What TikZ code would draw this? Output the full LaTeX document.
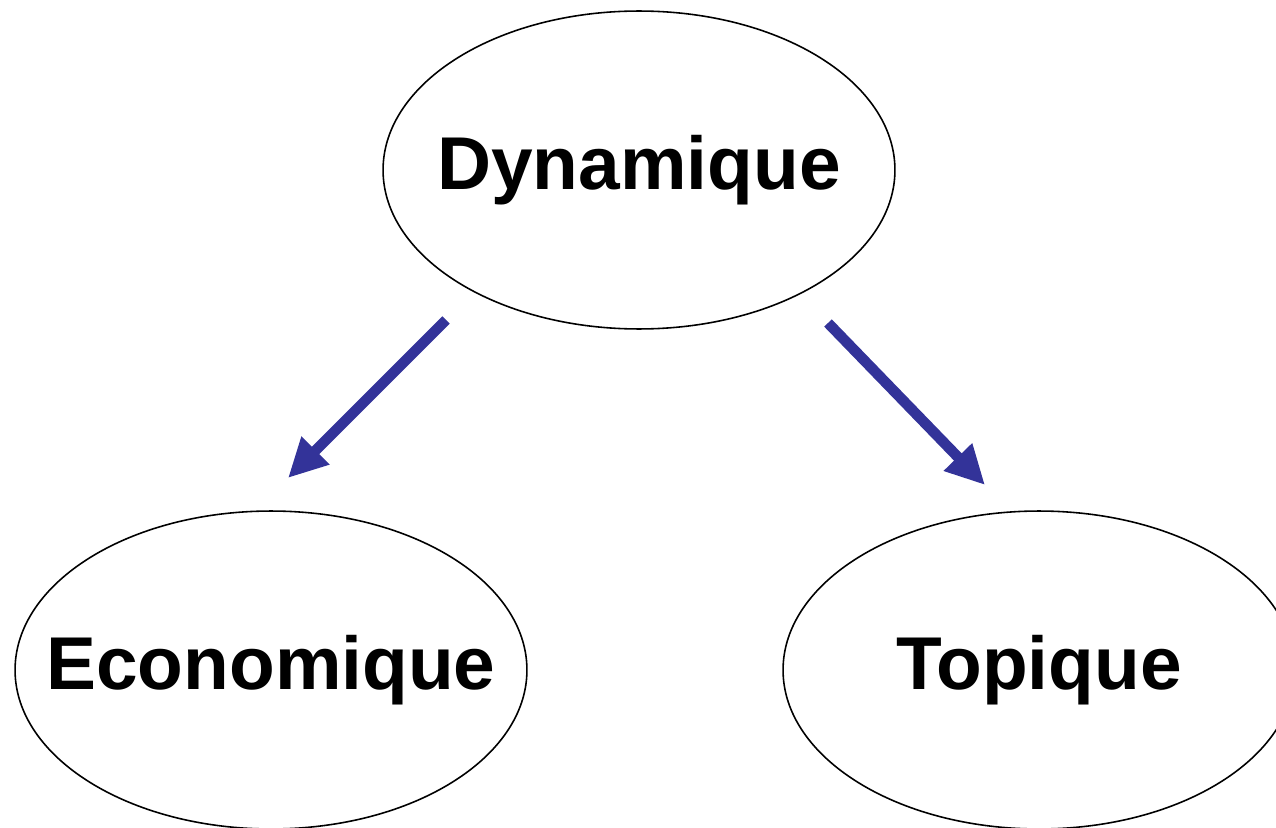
\documentclass[tikz,border=0pt]{standalone}
\usepackage{fontspec}
\setmainfont{Liberation Sans}
\usetikzlibrary{shapes.geometric,arrows.meta}
\definecolor{arrowblue}{RGB}{51,51,153}
\newcommand{\ovaltext}[1]{\makebox[0pt][c]{#1}}
\begin{document}
\begin{tikzpicture}[x=0.02cm,y=-0.02cm,
  oval/.style={ellipse,draw=black,line width=0.9pt,minimum width=10.24cm,minimum height=6.36cm,inner sep=0pt,font=\fontsize{42.6}{50}\selectfont\bfseries},
  bluearrow/.style={draw=arrowblue,line width=6pt,-{Triangle[length=0.78cm,width=0.74cm]}}]
\clip (0,0) rectangle (1276,828);
\node[oval] (dyn) at (639,170) {\ovaltext{\raisebox{-1.2pt}{Dynamique}}};
\node[oval] (eco) at (271,670) {\ovaltext{\raisebox{-1.2pt}{Economique}}};
\node[oval] (top) at (1039,670) {\ovaltext{\raisebox{-1.2pt}{Topique}}};
\coordinate (s1) at (446,320);
\coordinate (e1) at (288,478);
\coordinate (s2) at (828,323);
\coordinate (e2) at (985,485);
\draw[bluearrow] (s1) -- (e1);
\draw[bluearrow] (s2) -- (e2);
\end{tikzpicture}
\end{document}
